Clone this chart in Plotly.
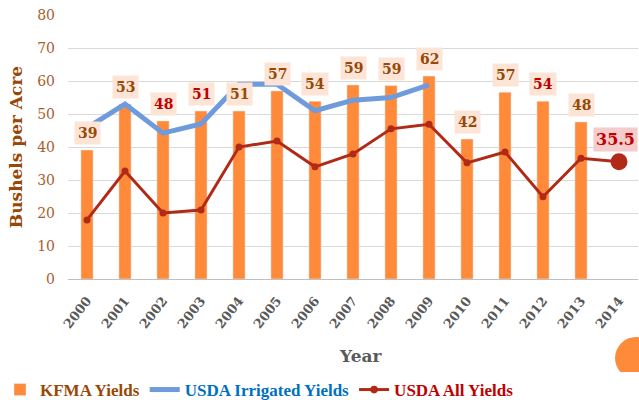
import plotly.graph_objects as go

years = [str(y) for y in range(2000, 2015)]
kfma = [39.1, 53, 47.9, 50.9, 50.9, 57, 53.9, 58.8, 58.6, 61.5, 42.4, 56.6, 53.9, 47.6, None]
irrigated = [45.8, 53, 44.2, 47, 59, 59, 51, 54.2, 55, 58.8, None, None, None, None, None]
all_yields = [17.9, 32.7, 20, 20.9, 40, 41.8, 34, 37.9, 45.5, 46.9, 35.2, 38.5, 24.9, 36.6, 35.5]
kfma_label_colors = ["#974806", "#974806", "#C00000", "#C00000", "#974806", "#974806", "#974806",
                     "#974806", "#974806", "#974806", "#974806", "#974806", "#C00000", "#974806"]

SERIF = "DejaVu Serif"
LEG_FONT = "Liberation Serif"
BROWN = "#974806"


def legend_name(text, color):
    return '<span style="color:%s"><b>%s</b></span>' % (color, text)


fig = go.Figure()
fig.add_trace(go.Bar(x=years, y=kfma, name=legend_name("KFMA Yields", BROWN),
                     marker_color="#FF8A3A", width=0.32))
fig.add_trace(go.Scatter(x=years, y=irrigated, name=legend_name("USDA Irrigated Yields", "#0070C0"),
                         mode="lines", line=dict(color="#6F9BDC", width=5)))
sizes = [7] * (len(years) - 1) + [17]
fig.add_trace(go.Scatter(x=years, y=all_yields, name=legend_name("USDA All Yields", "#C00000"),
                         mode="lines+markers", cliponaxis=False,
                         line=dict(color="#B12A17", width=3),
                         marker=dict(color="#B12A17", size=sizes, opacity=1,
                                     line=dict(width=0))))

annotations = []
for i, (v, c) in enumerate(zip(kfma, kfma_label_colors)):
    if v is None:
        continue
    annotations.append(dict(x=i, y=v, text="<b>%d</b>" % int(v + 0.5), showarrow=False,
                            yanchor="bottom", yshift=5, bgcolor="#FCE4D6", borderpad=3,
                            font=dict(family=SERIF, size=14, color=c)))
last = len(years) - 1
annotations.append(dict(x=last, y=all_yields[last], text="<b>%s</b>" % all_yields[last],
                        showarrow=False, yanchor="bottom", xanchor="right", xshift=19,
                        yshift=10, bgcolor="#F5CCCC",
                        borderpad=2, font=dict(family=SERIF, size=16, color="#C00000")))
annotations.append(dict(x=0.513, y=-0.29, xref="paper", yref="paper", text="<b>Year</b>",
                        yanchor="middle", showarrow=False,
                        font=dict(family=SERIF, size=17, color="#595959")))

fig.update_layout(
    width=639, height=400,
    margin=dict(l=68, r=1, t=15, b=121, autoexpand=False),
    plot_bgcolor="white", paper_bgcolor="white",
    showlegend=True,
    legend=dict(orientation="h", x=-0.005, xref="container", xanchor="left",
                y=0.07, yref="container", yanchor="top",
                font=dict(family=LEG_FONT, size=17), traceorder="normal",
                itemwidth=30),
    annotations=annotations,
)
fig.update_xaxes(type="category", range=[-0.5, 14.5], tickangle=-52,
                 tickfont=dict(family=SERIF, size=13, color="#595959", weight="bold"),
                 showline=True, linecolor="#BFBFBF", linewidth=1, ticks="",
                 ticklabelstandoff=8,
                 showgrid=False, automargin=False)
fig.update_yaxes(range=[0, 80], dtick=10, gridcolor="#D9D9D9", gridwidth=1,
                 tickfont=dict(family=SERIF, size=14, color="#A85E2C"),
                 zeroline=False, ticks="", ticklabelstandoff=12, automargin=False,
                 title=dict(text="<b>Bushels per Acre</b>", standoff=10,
                            font=dict(family=SERIF, size=17, color=BROWN)))

# decorative orange circle at lower right
fig.add_shape(type="circle", xref="paper", yref="paper",
              x0=(616 - 68) / 571, x1=(658 - 68) / 571,
              y0=(279 - 379) / 264, y1=(279 - 337) / 264,
              fillcolor="#FF8A3A", line_width=0, layer="above")
fig.add_shape(type="rect", xref="paper", yref="paper",
              x0=(610 - 68) / 571, x1=(660 - 68) / 571,
              y0=(279 - 385) / 264, y1=(279 - 372) / 264,
              fillcolor="white", line_width=0, layer="above")

fig.write_html("out.html", config={"displayModeBar": False},
               post_script="document.body.style.margin='0';")
